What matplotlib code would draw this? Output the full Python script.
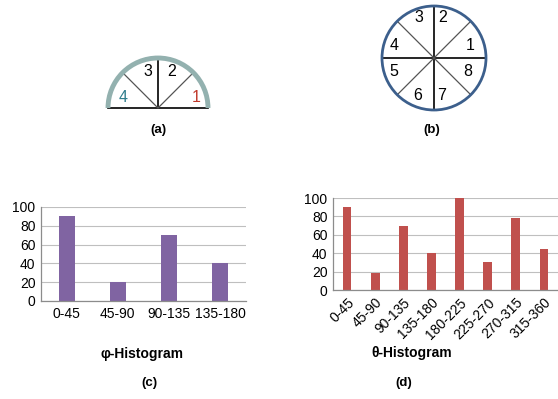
import numpy as np
import matplotlib
matplotlib.use('Agg')
import matplotlib.pyplot as plt
from matplotlib.patches import Arc, Circle

plt.rcParams['font.family'] = ['Liberation Sans', 'DejaVu Sans']

phi_bins = ['0-45', '45-90', '90-135', '135-180']
phi_counts = [90, 20, 70, 40]
theta_bins = ['0-45', '45-90', '90-135', '135-180', '180-225', '225-270', '270-315', '315-360']
theta_counts = [90, 19, 70, 40, 100, 30, 78, 45]
yticks = [0, 20, 40, 60, 80, 100]

W, H = 558, 399
fig = plt.figure(figsize=(W / 100, H / 100), dpi=100)

# pixel-space canvas for the two sector diagrams and captions
bg = fig.add_axes([0, 0, 1, 1])
bg.set_xlim(0, W)
bg.set_ylim(H, 0)
bg.axis('off')

# (a) half circle split into 4 sectors
cx, cy, r = 158, 108, 50
bg.add_patch(Arc((cx, cy), 2 * r, 2 * r, theta1=180, theta2=360, color='#93b1af', lw=3.5, zorder=3))
bg.plot([cx - r, cx + r], [cy, cy], color='black', lw=1.2)
bg.plot([cx, cx], [cy, cy - r], color='black', lw=1.2)
for ang in (45, 135):
    a = np.radians(ang)
    bg.plot([cx, cx + r * np.cos(a)], [cy, cy - r * np.sin(a)], color='#555555', lw=0.9)
half_labels = [('1', 196, 97, '#c0392b'), ('2', 172, 71, 'black'),
               ('3', 148, 71, 'black'), ('4', 123, 97, '#2e7d8c')]
for s, x, y, c in half_labels:
    bg.text(x, y, s, ha='center', va='center', fontsize=11.5, color=c)
bg.text(158, 130, '(a)', ha='center', va='center', fontsize=9.5, fontweight='bold')

# (b) full circle split into 8 sectors
cx, cy, r = 434, 58, 52
bg.add_patch(Circle((cx, cy), r, fill=False, ec='#3c5f8c', lw=2, zorder=3))
bg.plot([cx - r, cx + r], [cy, cy], color='black', lw=1.2)
bg.plot([cx, cx], [cy - r, cy + r], color='black', lw=1.2)
for ang in (45, 135):
    a = np.radians(ang)
    bg.plot([cx - r * np.cos(a), cx + r * np.cos(a)],
            [cy + r * np.sin(a), cy - r * np.sin(a)], color='#555555', lw=0.9)
full_labels = [('1', 470, 46), ('2', 443, 18), ('3', 419, 18), ('4', 394, 46),
               ('5', 394, 71), ('6', 418, 95), ('7', 442, 95), ('8', 468, 71)]
for s, x, y in full_labels:
    bg.text(x, y, s, ha='center', va='center', fontsize=11.5)
bg.text(432, 130, '(b)', ha='center', va='center', fontsize=9.5, fontweight='bold')


def histogram(rect, labels, counts, color, rotate):
    ax = fig.add_axes(rect)
    x = np.arange(len(labels))
    ax.bar(x, counts, width=0.31, color=color, zorder=2)
    ax.set_xlim(-0.5, len(labels) - 0.5)
    ax.set_ylim(0, 100)
    ax.set_yticks(yticks)
    ax.yaxis.grid(True, color='#bfbfbf', lw=0.8, zorder=0)
    ax.set_xticks(x)
    if rotate:
        ax.set_xticklabels(labels, rotation=45, ha='right', rotation_mode='anchor')
    else:
        ax.set_xticklabels(labels)
    ax.tick_params(length=0, labelsize=10, pad=4)
    for side in ('top', 'right'):
        ax.spines[side].set_visible(False)
    for side in ('left', 'bottom'):
        ax.spines[side].set_color('#8c8c8c')
        ax.spines[side].set_linewidth(0.9)
    return ax


# (c) phi histogram
histogram([41 / W, 1 - 301 / H, 205 / W, 94 / H], phi_bins, phi_counts, '#8064a2', False)
bg.text(142, 354, 'φ-Histogram', ha='center', va='center', fontsize=10, fontweight='bold')
bg.text(149, 383, '(c)', ha='center', va='center', fontsize=9.5, fontweight='bold')

# (d) theta histogram
histogram([333 / W, 1 - 290 / H, 225 / W, 92 / H], theta_bins, theta_counts, '#c0504d', True)
bg.text(412, 353, 'θ-Histogram', ha='center', va='center', fontsize=10, fontweight='bold')
bg.text(404, 383, '(d)', ha='center', va='center', fontsize=9.5, fontweight='bold')

fig.savefig('out.png', dpi=100)
